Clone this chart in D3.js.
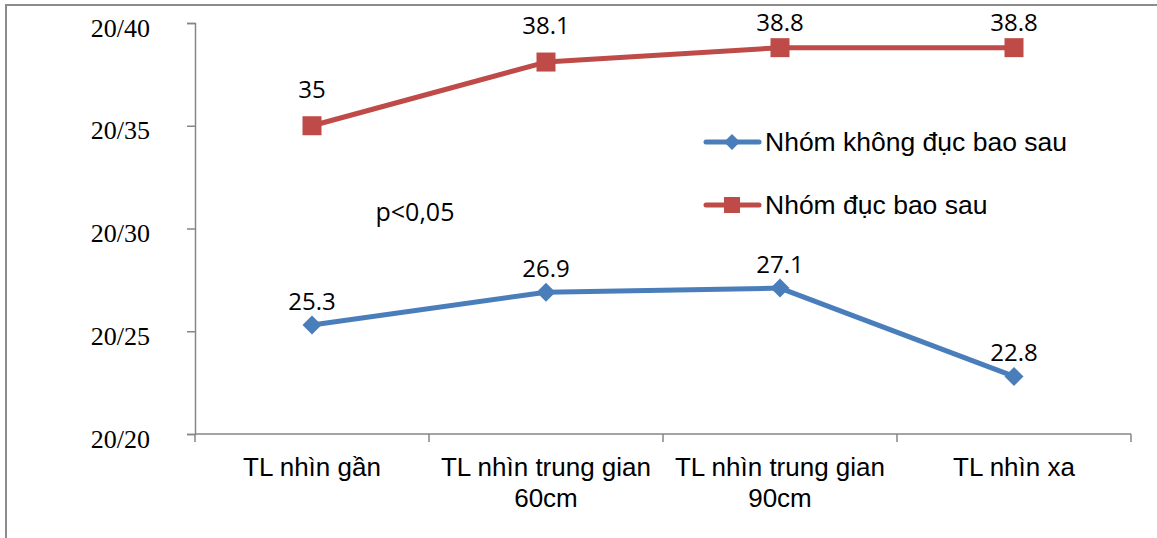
<!DOCTYPE html>
<html>
<head>
<meta charset="utf-8">
<script src="https://cdn.jsdelivr.net/npm/d3@7"></script>
<style>
  html, body { margin: 0; padding: 0; background: #fff; }
  svg { display: block; }
  .ylab { font-family: "Liberation Serif", "DejaVu Serif", serif !important; }
</style>
</head>
<body>
<svg id="chart" width="1157" height="538"></svg>
<script>
// ---- data ----
const categories = [
  ["TL nhìn gần"],
  ["TL nhìn trung gian", "60cm"],
  ["TL nhìn trung gian", "90cm"],
  ["TL nhìn xa"]
];
const seriesNames = ["Nhóm không đục bao sau", "Nhóm đục bao sau"];
const seriesKhongDuc = [25.3, 26.9, 27.1, 22.8];
const seriesDuc = [35, 38.1, 38.8, 38.8];
const yTickValues = [20, 25, 30, 35, 40];
const yTickLabels = ["20/20", "20/25", "20/30", "20/35", "20/40"];
const annotation = "p<0,05";

(function () {
// ---- layout ----
const svg = d3.select("#chart");
const plotLeft = 195, plotRight = 1131, plotTop = 23, plotBottom = 434;
const gray = "#868686";
const blue = "#4A7EBB", red = "#BE4B48";

// outer frame
svg.append("path")
  .attr("d", "M6,545 L6,5 L1165,5")
  .attr("fill", "none").attr("stroke", "#8c8c8c").attr("stroke-width", 2);

const x = d3.scaleBand().domain(d3.range(categories.length)).range([plotLeft, plotRight]).padding(0);
const y = d3.scaleLinear().domain([20, 40]).range([plotBottom, plotTop]);
const cx = i => x(i) + x.bandwidth() / 2;

// y axis
const yAxis = d3.axisLeft(y).tickValues(yTickValues)
  .tickFormat((d, i) => yTickLabels[i]).tickSize(8).tickPadding(37);
const gy = svg.append("g").attr("transform", `translate(${plotLeft},0)`).call(yAxis)
  .attr("font-family", null).attr("font-size", null);
gy.select(".domain").attr("stroke", gray).attr("stroke-width", 1.5);
gy.selectAll(".tick line").attr("stroke", gray).attr("stroke-width", 1.5);
gy.selectAll(".tick text")
  .attr("class", "ylab")
  .style("font-family", "'Liberation Serif', 'DejaVu Serif', serif")
  .style("font-size", "26px").attr("fill", "#000").attr("dy", "0.5em");

// x axis (ticks at category boundaries)
svg.append("line").attr("x1", plotLeft).attr("x2", plotRight).attr("y1", plotBottom).attr("y2", plotBottom)
  .attr("stroke", gray).attr("stroke-width", 1.5);
const boundaries = d3.range(categories.length + 1).map(i => i < categories.length ? x(i) : plotRight);
svg.selectAll(".xtick").data(boundaries).enter().append("line")
  .attr("x1", d => d).attr("x2", d => d).attr("y1", plotBottom).attr("y2", plotBottom + 8)
  .attr("stroke", gray).attr("stroke-width", 1.5);

// category labels
const catG = svg.append("g");
categories.forEach((lines, i) => {
  const t = catG.append("text").attr("x", cx(i)).attr("y", plotBottom + 42)
    .attr("text-anchor", "middle")
    .attr("font-family", "'Liberation Sans', Arial, sans-serif")
    .attr("font-size", 26).attr("fill", "#000");
  lines.forEach((ln, k) => {
    t.append("tspan").attr("x", cx(i)).attr("dy", k === 0 ? 0 : 31).text(ln);
  });
});

// lines
const lineGen = d3.line().x((d, i) => cx(i)).y(d => y(d));
svg.append("path").datum(seriesKhongDuc).attr("d", lineGen)
  .attr("fill", "none").attr("stroke", blue).attr("stroke-width", 5).attr("stroke-linejoin", "round");
svg.append("path").datum(seriesDuc).attr("d", lineGen)
  .attr("fill", "none").attr("stroke", red).attr("stroke-width", 5).attr("stroke-linejoin", "round");

// markers
const diamond = 9.5, sq = 9.5;
svg.selectAll(".mk1").data(seriesKhongDuc).enter().append("path")
  .attr("d", (d, i) => {
    const px = cx(i), py = y(d);
    return `M${px},${py - diamond} L${px + diamond},${py} L${px},${py + diamond} L${px - diamond},${py} Z`;
  }).attr("fill", blue);
svg.selectAll(".mk2").data(seriesDuc).enter().append("rect")
  .attr("x", (d, i) => cx(i) - sq).attr("y", d => y(d) - sq)
  .attr("width", sq * 2).attr("height", sq * 2).attr("fill", red);

// data labels
const labelFont = "'Open Sans', 'Noto Sans', sans-serif";
svg.selectAll(".lb1").data(seriesKhongDuc).enter().append("text")
  .attr("x", (d, i) => cx(i)).attr("y", d => y(d) - 15)
  .attr("text-anchor", "middle").attr("font-family", labelFont).attr("font-size", 24)
  .attr("fill", "#000").text(d => d);
svg.selectAll(".lb2").data(seriesDuc).enter().append("text")
  .attr("x", (d, i) => cx(i)).attr("y", d => Math.max(31, y(d) - 28))
  .attr("text-anchor", "middle").attr("font-family", labelFont).attr("font-size", 24)
  .attr("fill", "#000").text(d => d);

// annotation
svg.append("text").attr("x", 415).attr("y", 221).attr("text-anchor", "middle")
  .attr("font-family", labelFont).attr("font-size", 25).attr("fill", "#000").text(annotation);

// legend
const legend = svg.append("g");
const legRows = [
  { name: seriesNames[0], color: blue, shape: "diamond", ly: 142 },
  { name: seriesNames[1], color: red, shape: "square", ly: 205 }
];
legRows.forEach(r => {
  legend.append("line").attr("x1", 706).attr("x2", 759).attr("y1", r.ly).attr("y2", r.ly)
    .attr("stroke", r.color).attr("stroke-width", 5).attr("stroke-linecap", "round");
  if (r.shape === "diamond") {
    const s = 8;
    legend.append("path").attr("d", `M732,${r.ly - s} L${732 + s},${r.ly} L732,${r.ly + s} L${732 - s},${r.ly} Z`)
      .attr("fill", r.color);
  } else {
    legend.append("rect").attr("x", 732 - 8).attr("y", r.ly - 8).attr("width", 16).attr("height", 16)
      .attr("fill", r.color);
  }
  legend.append("text").attr("x", 765).attr("y", r.ly).attr("dy", "0.35em")
    .attr("font-family", "'Liberation Sans', Arial, sans-serif").attr("font-size", 26.5)
    .attr("fill", "#000").text(r.name);
});
})();
</script>
</body>
</html>
